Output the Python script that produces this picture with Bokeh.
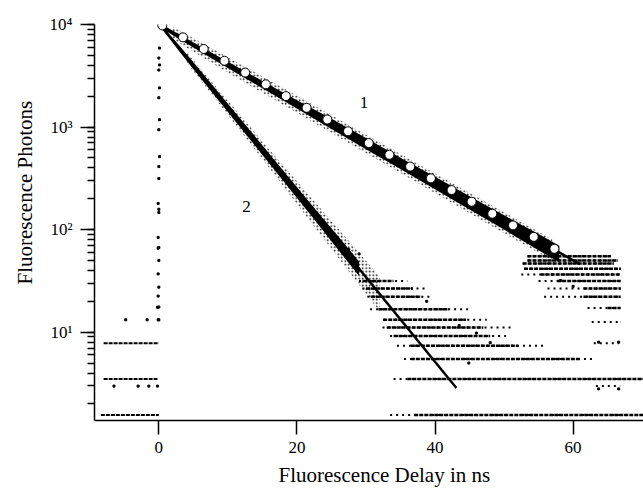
from bokeh.plotting import figure
from bokeh.models import Range1d, FixedTicker, LogTicker, Label, Title
from bokeh.embed import file_html
from bokeh.resources import INLINE

FONT = "Liberation Serif"

# ---- fitted decay lines (end points, straight on log axis) ----
fit1_x = [0.3, 61.0]
fit1_y = [9800, 46]
fit2_x = [0.3, 43.1]
fit2_y = [9700, 2.86]

# ---- open circles on curve 1 ----
circ_x = [0.5, 3.5, 6.5, 9.5, 12.5, 15.5, 18.4, 21.4, 24.4, 27.4,
          30.4, 33.4, 36.4, 39.4, 42.4, 45.3, 48.3, 51.3, 54.3, 57.3]
circ_y = [9800, 7500, 5770, 4430, 3400, 2610, 2005, 1540, 1185, 910,
          698, 536, 412, 316, 243, 187, 143, 110, 85, 65]

# ---- dense data cloud of curve 1 (core and sparse envelope) ----
c1_core_x = [0.3, 2, 5, 10, 15, 20, 25, 30, 35, 40, 45, 50, 55, 58]
c1_core_lo = [9300, 7850, 5980, 3767, 2393, 1521, 955, 607, 390, 248, 157, 100, 62.8, 48.2]
c1_core_hi = [9700, 8550, 6600, 4325, 2812, 1828, 1202, 782, 502, 327, 212, 138, 90.8, 69.7]
c1_fuzz_x = [2, 10, 20, 30, 40, 50, 57]
c1_fuzz_lo = [7200, 3400, 1380, 560, 228, 92, 50]
c1_fuzz_hi = [9500, 4800, 2020, 840, 352, 148, 80]

# ---- dense data cloud of curve 2 ----
c2_core_x = [0.3, 3, 6, 10, 14, 18, 22, 26, 29]
c2_core_lo = [9450, 5420, 3034, 1403, 649, 300, 139, 63.4, 35.4]
c2_core_hi = [9850, 6223, 3565, 1687, 798, 378, 179, 85.5, 48.9]
c2_fuzz_x = [4, 10, 16, 22, 28, 32]
c2_fuzz_lo = [4285, 1309, 400, 119, 35.6, 15.9]
c2_fuzz_hi = [5395, 1807, 605, 207, 71.1, 34.8]

# ---- quantised photon-count rows: level, sparse start, dense start, dense end, sparse end ----
rows2_y = [1.56, 3.5, 5.47, 7.36, 9.2, 11.1, 13.2, 16.7, 22.2, 26.7, 31.5]
rows2_xs0 = [33.5, 34.0, 35.5, 34.5, 33.5, 32.4, 32.5, 30.6, 30.2, 29.5, 29.0]
rows2_xd0 = [37.0, 36.0, 36.5, 36.5, 34.0, 33.0, 32.5, 31.8, 30.7, 30.0, 29.5]
rows2_xd1 = [70.5, 70.5, 61.0, 52.0, 48.0, 47.0, 44.5, 42.0, 38.0, 36.8, 34.0]
rows2_xs1 = [70.5, 70.5, 63.0, 55.8, 50.5, 51.2, 47.5, 45.0, 39.5, 38.5, 36.0]

rows1_y = [55, 50, 46.8, 41.5, 36.6, 31.5, 26.7, 22.2, 17.2, 12.6, 7.8, 2.98]
rows1_xs0 = [53.4, 53.4, 52.7, 52.9, 52.5, 55.0, 56.3, 55.8, 62.1, 62.7, 63.0, 63.3]
rows1_xd0 = [53.4, 53.4, 52.7, 52.9, 55.3, 57.7, 61.5, 61.5, 65.0, 66.9, 66.6, 66.8]
rows1_xd1 = [65.5, 66.5, 65.9, 66.9, 66.9, 66.9, 66.9, 66.9, 66.9, 66.9, 66.6, 66.8]
rows1_xs1 = [65.5, 66.5, 65.9, 66.9, 66.9, 66.9, 66.9, 66.9, 66.9, 66.9, 66.6, 66.8]

# ---- background rows before time zero ----
pre_y = [1.56, 3.5, 7.8]
pre_x0 = [-8.4, -8.0, -8.0]
pre_x1 = [0.0, -0.2, 0.0]
pre_dots_x = [-6.5, -3.0, -1.45, -0.2, -4.8, -1.7, 0.0, -0.2]
pre_dots_y = [2.98, 2.98, 2.98, 2.98, 13.2, 13.2, 13.2, 17.5]

# ---- rising edge at time zero ----
rise_x = [0.1, 0.0, 0.1, 0.0, 0.1, 0.0, 0.1, 0.0, 0.1, 0.0, 0.0, -0.1, 0.0, 0.0,
          -0.1, 0.0, -0.1, 0.0, -0.1, 0.0, -0.1, 0.0, -0.1]
rise_y = [5890, 4710, 4030, 3600, 2410, 1930, 1180, 942, 515, 412, 315, 180, 158, 147,
          84, 67, 66, 50, 37, 27.5, 22.5, 17.6, 13.2]

# ---- isolated points around the rows ----
iso_x = [27.5, 29.0, 38.8, 43.5, 46.0, 48.0, 44.9, 58.2, 60.0, 63.7, 66.6, 63.7, 66.6]
iso_y = [64, 58, 20, 11.6, 9.8, 7.9, 5.0, 32, 28, 8.0, 8.0, 2.8, 2.8]

# ---- curve labels ----
lab_x = [29.7, 12.7]
lab_y = [1740, 168]
lab_t = ["1", "2"]

y_ticks = [10, 100, 1000, 10000]
y_tick_text = ["10\u00b9", "10\u00b2", "10\u00b3", "10\u2074"]
x_ticks = [0, 20, 40, 60]

p = figure(width=643, height=491, y_axis_type="log",
           x_range=Range1d(-9.32, 70.2), y_range=Range1d(1.377, 10000),
           output_backend="svg", toolbar_location=None,
           min_border_left=94, min_border_right=0, min_border_top=24,
           min_border_bottom=69)
p.outline_line_color = None
p.grid.visible = False
p.background_fill_color = "white"

# rows
p.segment(rows2_xs0, rows2_y, rows2_xs1, rows2_y, line_color="black",
          line_width=2, line_dash="2 4")
p.segment(rows2_xd0, rows2_y, rows2_xd1, rows2_y, line_color="black",
          line_width=2.5, line_dash="4 1")
p.segment(rows1_xs0, rows1_y, rows1_xs1, rows1_y, line_color="black",
          line_width=2, line_dash="2 4")
p.segment(rows1_xd0, rows1_y, rows1_xd1, rows1_y, line_color="black",
          line_width=2.5, line_dash="4 1")
p.segment(pre_x0, pre_y, pre_x1, pre_y, line_color="black",
          line_width=2, line_dash="4 1")
p.scatter(pre_dots_x, pre_dots_y, marker="square", size=2, color="black")
p.scatter(rise_x, rise_y, marker="square", size=2, color="black")
p.scatter(iso_x, iso_y, marker="square", size=2, color="black")

# clouds
p.varea(x=c1_fuzz_x, y1=c1_fuzz_lo, y2=c1_fuzz_hi, fill_alpha=0,
        hatch_pattern=".", hatch_color="black", hatch_scale=3.5, hatch_weight=2)
p.varea(x=c2_fuzz_x, y1=c2_fuzz_lo, y2=c2_fuzz_hi, fill_alpha=0,
        hatch_pattern=".", hatch_color="black", hatch_scale=3.5, hatch_weight=2)
p.varea(x=c1_core_x, y1=c1_core_lo, y2=c1_core_hi, fill_color="black")
p.varea(x=c2_core_x, y1=c2_core_lo, y2=c2_core_hi, fill_color="black")

# fits
p.line(fit1_x, fit1_y, line_color="black", line_width=2.5)
p.line(fit2_x, fit2_y, line_color="black", line_width=2.5)

p.scatter(circ_x, circ_y, marker="circle", size=9, fill_color="white",
          line_color="black", line_width=1)

for tx, ty, tt in zip(lab_x, lab_y, lab_t):
    p.add_layout(Label(x=tx, y=ty, text=tt, text_font=FONT, text_font_size="17px",
                       text_align="center", text_baseline="middle", text_color="black"))

# axes
for ax in (p.xaxis[0], p.yaxis[0]):
    ax.axis_line_color = "black"
    ax.axis_line_width = 1.5
    ax.major_tick_line_color = "black"
    ax.major_tick_line_width = 1.5
    ax.minor_tick_line_color = "black"
    ax.minor_tick_line_width = 1.5
    ax.major_tick_in = 0
    ax.major_tick_out = 14
    ax.minor_tick_in = 0
    ax.major_label_text_font = FONT
    ax.major_label_text_font_size = "17px"
    ax.major_label_text_color = "black"

p.xaxis.ticker = FixedTicker(ticks=x_ticks, minor_ticks=[])
p.xaxis.major_label_standoff = 7
p.yaxis.ticker = LogTicker(mantissas=[1], num_minor_ticks=10)
p.yaxis.minor_tick_out = 7
p.yaxis.major_label_standoff = 8
p.yaxis.major_label_overrides = dict(zip(y_ticks, y_tick_text))
p.yaxis.major_label_text_baseline = "top"

p.add_layout(Title(text="Fluorescence Delay in ns", align="left", offset=184,
                   text_font=FONT, text_font_size="21px", text_font_style="normal",
                   text_color="black"), "below")
p.add_layout(Title(text="Fluorescence Photons", align="left", offset=136,
                   standoff=20,
                   text_font=FONT, text_font_size="21px", text_font_style="normal",
                   text_color="black"), "left")

open("out.html", "w").write(file_html(p, INLINE))
